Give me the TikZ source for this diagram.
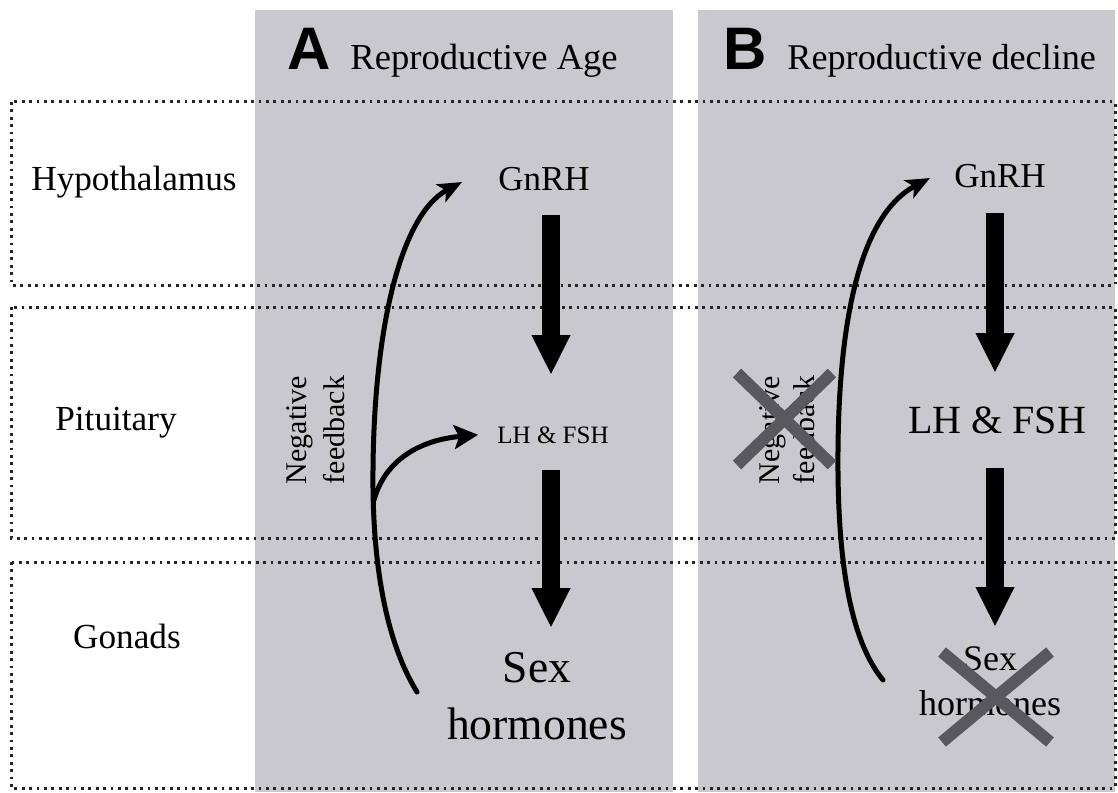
\documentclass[tikz,border=0pt]{standalone}
\usepackage{fontspec}
\setmainfont{Liberation Serif}
\newfontfamily\titlesans{Liberation Sans}
\usetikzlibrary{arrows.meta}
\definecolor{panel}{RGB}{200,200,206}
\definecolor{xgray}{RGB}{88,88,94}
\begin{document}
\begin{tikzpicture}[x=0.5pt,y=-0.5pt,
  panelbox/.style={fill=panel,draw=none},
  regionbox/.style={draw=black!85,line width=1.5pt,dash pattern=on 1.4pt off 2.3pt},
  bigarrow/.style={line width=9pt,-{Triangle[length=20pt,width=18pt]}},
  fbarrow/.style={line width=2.5pt,line cap=round,-{Stealth[length=12pt,width=10pt,inset=3pt]}},
  crossout/.style={draw=xgray,line width=6pt},
  lbl/.style={inner sep=0pt,anchor=base},
  rowfont/.style={font=\fontsize{17.6pt}{20pt}\selectfont},
]
\useasboundingbox (0,0) rectangle (1118,792);
\fill[white] (0,0) rectangle (1118,792);
% panels
\fill[panelbox] (255,10) rectangle (673,792);
\fill[panelbox] (698,10) rectangle (1115,792);
% region boxes
\draw[regionbox] (11,102) rectangle (1115,285);
\draw[regionbox] (11,307) rectangle (1115,538);
\draw[regionbox] (11,562) rectangle (1115,788);
% row labels
\node[lbl,rowfont] (hyp) at (134,190) {Hypothalamus};
\node[lbl,rowfont] (pit) at (116,430) {Pituitary};
\node[lbl,rowfont] (gon) at (127,648) {Gonads};
% titles
\node[inner sep=0pt,anchor=base west,font=\titlesans\bfseries\fontsize{30pt}{30pt}\selectfont] (Alet) at (287,70) {A};
\node[inner sep=0pt,anchor=base west,font=\fontsize{18.3pt}{20pt}\selectfont] (Atitle) at (350,70) {Reproductive Age};
\node[inner sep=0pt,anchor=base west,font=\titlesans\bfseries\fontsize{30pt}{30pt}\selectfont] (Blet) at (723,70) {B};
\node[inner sep=0pt,anchor=base west,font=\fontsize{18.1pt}{20pt}\selectfont] (Btitle) at (787,70) {Reproductive decline};
% panel A contents
\node[lbl,font=\fontsize{17.5pt}{20pt}\selectfont] (gnrhA) at (544,190) {GnRH};
\node[lbl,font=\fontsize{12.5pt}{14pt}\selectfont] (lhA) at (553,443) {LH \& FSH};
\node[inner sep=0pt,align=center,font=\fontsize{22.8pt}{28.5pt}\selectfont] (sexA) at (537,696) {Sex\\hormones};
\node[inner sep=0pt,align=center,rotate=90,font=\fontsize{15pt}{19pt}\selectfont] (nfA) at (316,430) {Negative\\feedback};
\coordinate (a1s) at (551,215);
\coordinate (a1e) at (551,375);
\coordinate (a2s) at (551,470);
\coordinate (a2e) at (551,628);
\draw[bigarrow] (a1s) -- (a1e);
\draw[bigarrow] (a2s) -- (a2e);
\coordinate (fbA0) at (417,692);
\coordinate (brA) at (374,500);
\coordinate (fbAtip) at (462,182);
\draw[fbarrow] (fbA0) .. controls (385,640) and (372,560) .. (373,470) .. controls (374,330) and (400,215) .. (fbAtip);
\draw[fbarrow,-{Stealth[length=12pt,width=12pt,inset=2.5pt]}] (brA) .. controls (385,460) and (420,440) .. ([xshift=-9.5pt]lhA.west);
% panel B contents
\node[lbl,font=\fontsize{17.5pt}{20pt}\selectfont] (gnrhB) at (1000,187) {GnRH};
\node[lbl,font=\fontsize{20pt}{22pt}\selectfont] (lhB) at (997,433) {LH \& FSH};
\node[inner sep=0pt,align=center,font=\fontsize{18pt}{22.5pt}\selectfont] (sexB) at (990,681) {Sex\\hormones};
\node[inner sep=0pt,align=center,rotate=90,font=\fontsize{15pt}{17.5pt}\selectfont] (nfB) at (787,430) {Negative\\feedback};
\coordinate (b1s) at (995,213);
\coordinate (b1e) at (995,373);
\coordinate (b2s) at (995,468);
\coordinate (b2e) at (995,627);
\draw[bigarrow] (b1s) -- (b1e);
\draw[bigarrow] (b2s) -- (b2e);
\coordinate (fbB0) at (883,680);
\coordinate (fbBtip) at (930,178);
\draw[fbarrow] (fbB0) .. controls (850,640) and (837,560) .. (838,450) .. controls (839,320) and (860,215) .. (fbBtip);
% cross-outs
\draw[crossout] (737,373) -- (832,465);
\draw[crossout] (737,465) -- (832,373);
\draw[crossout] (942,652) -- (1050,742);
\draw[crossout] (942,742) -- (1050,652);
\end{tikzpicture}
\end{document}
